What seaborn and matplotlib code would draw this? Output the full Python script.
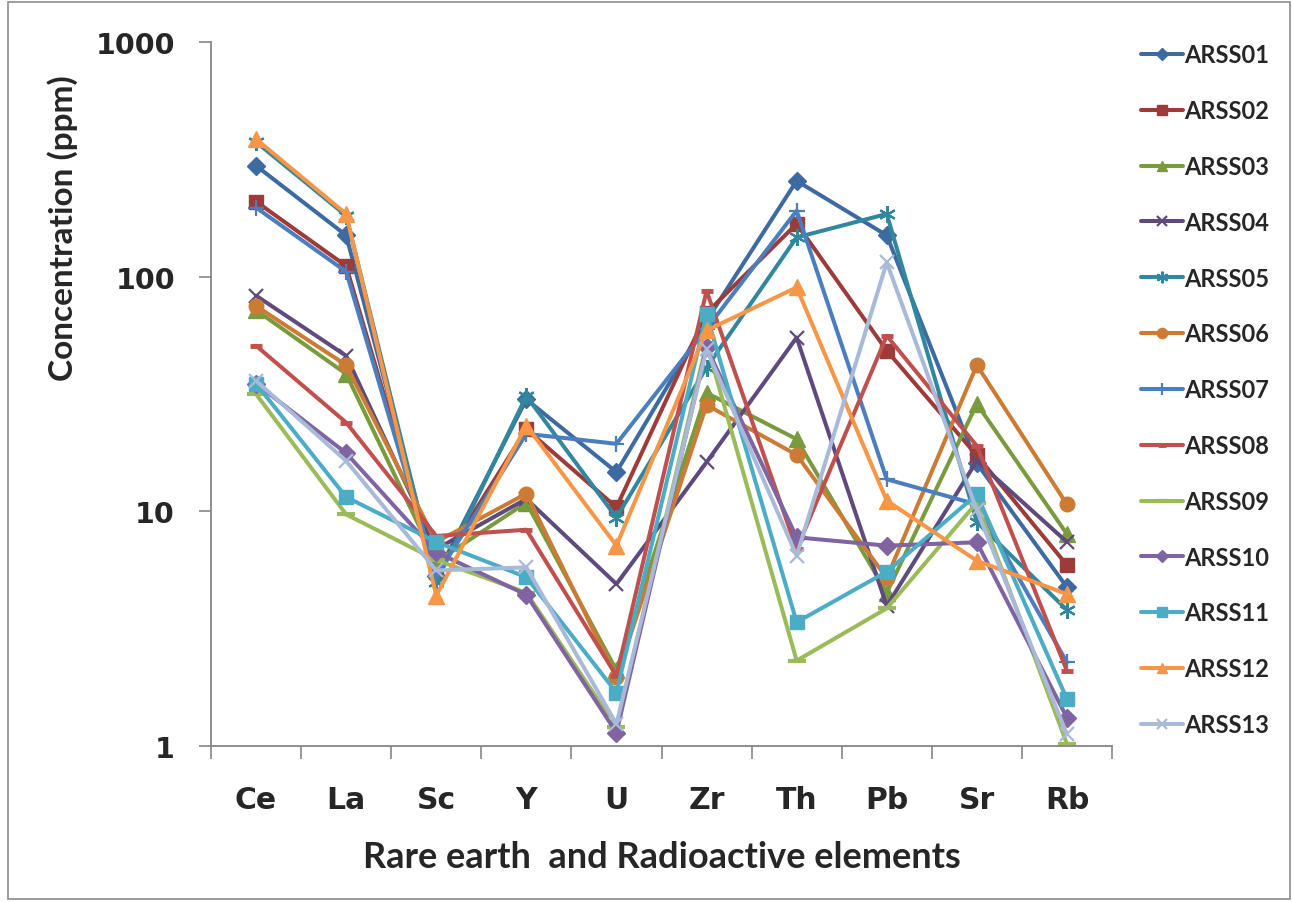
import seaborn as sns
import matplotlib.pyplot as plt
from matplotlib.patches import Rectangle
from matplotlib.ticker import FixedLocator, NullFormatter

elements = ["Ce", "La", "Sc", "Y", "U", "Zr", "Th", "Pb", "Sr", "Rb"]

ARSS01 = [297, 150, 5.3, 30, 14.7, 65, 256, 150, 16, 4.75]
ARSS02 = [209, 111, 5.5, 22.4, 10.4, 70, 168, 48.4, 17.3, 5.9]
ARSS03 = [72, 38.5, 6.1, 10.9, 2.1, 32, 20.3, 4.5, 28.7, 8.0]
ARSS04 = [83, 46, 6.9, 11.3, 4.9, 16.2, 55, 3.95, 16.4, 7.4]
ARSS05 = [375, 182, 5.0, 31, 9.4, 41, 147, 185, 9.0, 3.8]
ARSS06 = [75, 42, 7.4, 11.9, 1.96, 28.4, 17.4, 5.2, 42, 10.7]
ARSS07 = [197, 105, 5.3, 21.4, 19.4, 60, 191, 13.7, 10.7, 2.27]
ARSS08 = [50.8, 23.9, 7.85, 8.35, 1.99, 87, 6.9, 56, 19, 2.09]
ARSS09 = [31.6, 9.7, 6.2, 4.5, 1.2, 52, 2.31, 3.86, 10.9, 1.02]
ARSS10 = [35, 17.7, 6.7, 4.41, 1.14, 50, 7.75, 7.14, 7.38, 1.32]
ARSS11 = [35, 11.5, 7.4, 5.24, 1.69, 69, 3.37, 5.53, 11.8, 1.585]
ARSS12 = [386, 185, 4.37, 23.2, 7.14, 59, 90, 11.1, 6.16, 4.44]
ARSS13 = [36, 16.4, 5.6, 5.77, 1.24, 49, 6.47, 115, 10.1, 1.12]

sample_names = ["ARSS01", "ARSS02", "ARSS03", "ARSS04", "ARSS05", "ARSS06", "ARSS07",
                "ARSS08", "ARSS09", "ARSS10", "ARSS11", "ARSS12", "ARSS13"]
samples = [ARSS01, ARSS02, ARSS03, ARSS04, ARSS05, ARSS06, ARSS07,
           ARSS08, ARSS09, ARSS10, ARSS11, ARSS12, ARSS13]

colors = ["#3E6AA2", "#9D3B39", "#7A9A3E", "#5F4A7E", "#31879E", "#CC7B34", "#4A7EBF",
          "#C0504D", "#9BBB59", "#8064A2", "#4BACC6", "#F79646", "#A9BAD8"]
# (marker, size, edge width)
marker_styles = [("D", 9, 1), ("s", 10, 1), ("^", 11, 1), ("x", 10, 1.6), ((6, 2, 0), 12, 1.6),
                 ("o", 10.5, 1), ("+", 12, 1.6), ("_", 9, 3.5), ("_", 13, 3),
                 ("D", 9, 1), ("s", 10, 1), ("^", 11, 1), ("x", 10, 1.6)]

sns.set_style("white")
plt.rcParams["font.family"] = ["DejaVu Sans"]

fig = plt.figure(figsize=(12.92, 9.03), dpi=100)
ax = fig.add_axes([211 / 1292, 1 - 747 / 903, 901 / 1292, 704 / 903])

for name, vals, col, (mk, ms, mew) in zip(sample_names, samples, colors, marker_styles):
    sns.lineplot(x=elements, y=vals, ax=ax, color=col, linewidth=2.9, sort=False,
                 marker=mk, markersize=ms, markeredgewidth=mew,
                 markeredgecolor=col, markerfacecolor=col, label=name)

ax.set_yscale("log")
ax.set_ylim(1, 1000)
ax.set_xlim(-0.5, 9.5)
ax.yaxis.set_major_locator(FixedLocator([1, 10, 100, 1000]))
ax.set_yticklabels(["1", "10", "100", "1000"])
ax.yaxis.set_minor_formatter(NullFormatter())
ax.yaxis.set_minor_locator(FixedLocator([]))
ax.xaxis.set_minor_locator(FixedLocator([i - 0.5 for i in range(11)]))

grey = "#868686"
for side in ["top", "right"]:
    ax.spines[side].set_visible(False)
for side in ["left", "bottom"]:
    ax.spines[side].set_color(grey)
    ax.spines[side].set_linewidth(1.3)

ax.tick_params(axis="y", which="major", direction="out", length=9, width=1.2, color=grey,
               pad=17, labelsize=20.5, left=True)
ax.tick_params(axis="x", which="major", length=0, pad=28, labelsize=21.5)
ax.tick_params(axis="x", which="minor", direction="out", length=9, width=1.2, color=grey,
               bottom=True)
for lab in ax.get_xticklabels() + ax.get_yticklabels():
    lab.set_fontweight("bold")
ax.set_xlabel("")
ax.set_ylabel("")

fig.text(63 / 1292, 1 - 228 / 903, "Concentration (ppm)", rotation=90, ha="center",
         va="center", fontsize=24, fontweight="bold", family=["Lato", "DejaVu Sans"])
fig.text(662 / 1292, 1 - 858 / 903, "Rare earth  and Radioactive elements", ha="center",
         va="center", fontsize=26, fontweight="bold", family=["Lato", "DejaVu Sans"])

handles, labels = ax.get_legend_handles_labels()
if ax.get_legend() is not None:
    ax.get_legend().remove()
fig.legend(handles, labels, loc="upper left", bbox_to_anchor=(1120 / 1292, 1 - 23 / 903),
           frameon=False, handlelength=1.75, handletextpad=0.05, labelspacing=1.39,
           markerscale=0.7, prop={"family": ["Lato", "DejaVu Sans"], "weight": "bold", "size": 17})

fig.patches.append(Rectangle((8 / 1292, 3 / 903), 1282 / 1292, 897 / 903, transform=fig.transFigure,
                             fill=False, edgecolor="#8C8C8C", linewidth=1.2))

fig.savefig("out.png", dpi=100)
